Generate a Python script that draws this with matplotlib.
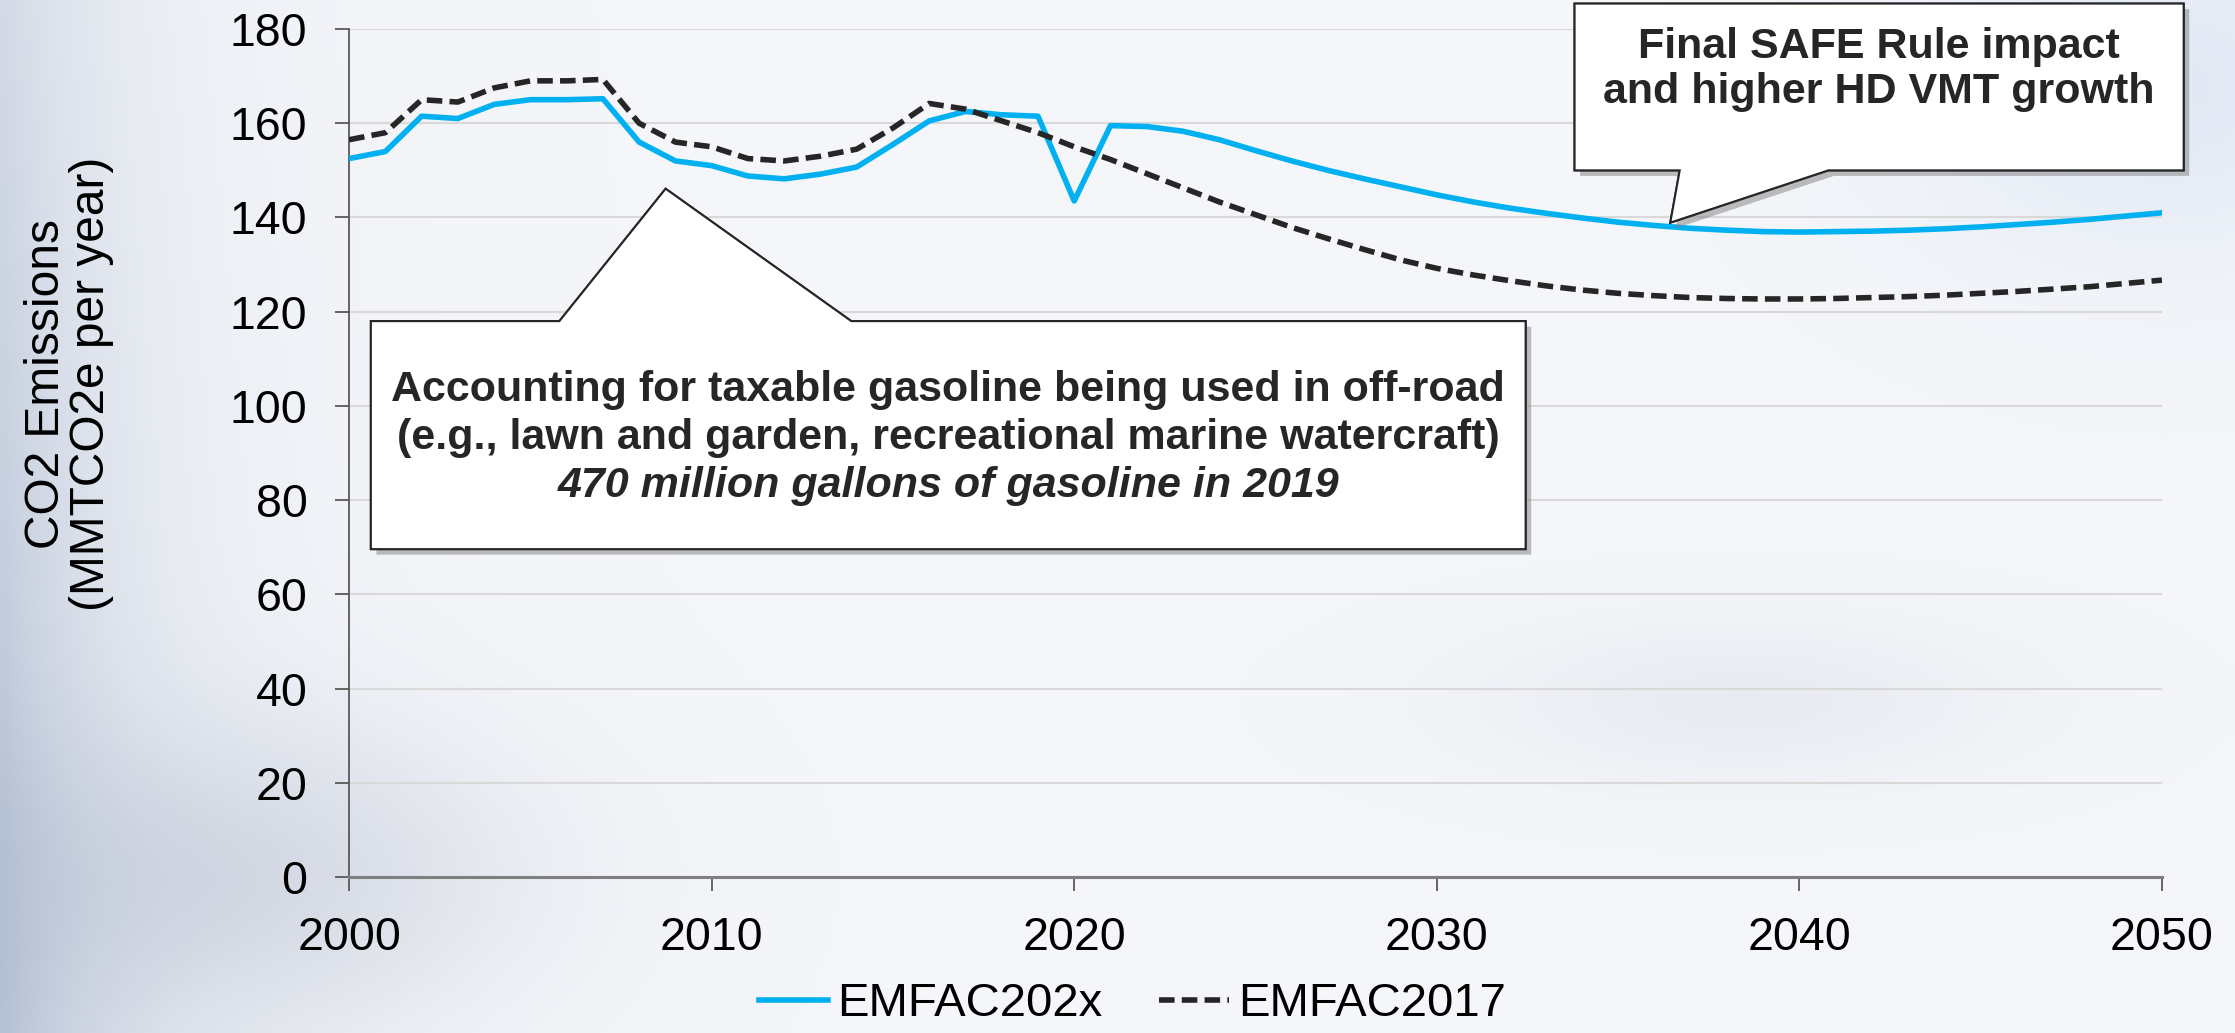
import matplotlib
matplotlib.use('Agg')
import matplotlib.pyplot as plt
import matplotlib.patheffects as pe
from matplotlib.patches import Polygon
import numpy as np

plt.rcParams['font.family'] = ['Liberation Sans', 'DejaVu Sans']

years = list(range(2000, 2051))
emfac202x = [152.5, 154.0, 161.5, 161.0, 164.0, 165.0, 165.0, 165.2, 156.0, 152.0,
             151.0, 148.8, 148.2, 149.2, 150.7, 155.5, 160.5, 162.5, 161.8, 161.5,
             143.5, 159.5, 159.3, 158.3, 156.5, 154.2, 152.0, 150.0, 148.2, 146.5,
             144.8, 143.3, 142.0, 140.9, 139.9, 139.0, 138.3, 137.7, 137.3, 137.0,
             136.9, 137.0, 137.1, 137.3, 137.6, 138.0, 138.5, 139.0, 139.6, 140.3,
             141.0]
emfac2017 = [156.5, 158.0, 165.0, 164.5, 167.5, 169.0, 169.0, 169.3, 160.0, 156.0,
             155.0, 152.5, 152.0, 153.0, 154.5, 159.0, 164.2, 163.0, 160.5, 158.0,
             155.0, 152.3, 149.3, 146.3, 143.3, 140.6, 137.9, 135.5, 133.2, 131.0,
             129.2, 127.8, 126.6, 125.5, 124.6, 123.9, 123.4, 123.0, 122.8, 122.7,
             122.7, 122.8, 123.0, 123.2, 123.5, 123.9, 124.3, 124.8, 125.3, 126.0,
             126.7]
series_names = ['EMFAC202x', 'EMFAC2017']
x_ticks = [2000, 2010, 2020, 2030, 2040, 2050]
y_ticks = [0, 20, 40, 60, 80, 100, 120, 140, 160, 180]

fig = plt.figure(figsize=(22.35, 10.33), dpi=100)

# soft slide-like background
bg_ax = fig.add_axes([0, 0, 1, 1], zorder=-10)
h, w = 206, 447
yy, xx = np.mgrid[0:1:h * 1j, 0:1:w * 1j]
bg = np.ones((h, w, 3)) * np.array([0.960, 0.966, 0.980])
left = (np.exp(-xx / 0.06) * (0.55 + 0.45 * yy))[..., None]
bg -= left * np.array([0.24, 0.20, 0.14])
blob = np.exp(-(((xx - 0.12) / 0.12) ** 2 + ((yy - 0.85) / 0.15) ** 2))[..., None]
bg -= blob * np.array([0.10, 0.09, 0.07])
blob2 = np.exp(-(((xx - 0.78) / 0.12) ** 2 + ((yy - 0.68) / 0.08) ** 2))[..., None]
bg -= blob2 * np.array([0.05, 0.045, 0.035])
tr = np.exp(-(((xx - 0.97) / 0.12) ** 2 + ((yy - 0.08) / 0.18) ** 2))[..., None]
bg -= tr * np.array([0.07, 0.05, 0.02])
bg_ax.imshow(np.clip(bg, 0, 1), aspect='auto', extent=[0, 1, 0, 1], interpolation='bicubic')
bg_ax.axis('off')

ax = fig.add_axes([0.1562, 0.1510, 0.8111, 0.8209])
ax.set_facecolor('none')

ax.plot(years, emfac202x, color='#00b0f0', lw=4.0, label=series_names[0], zorder=3)
ax.plot(years, emfac2017, color='#262626', lw=4.0, ls=(0, (2.8, 1.3)),
        label=series_names[1], zorder=3)

ax.set_xlim(2000, 2050)
ax.set_ylim(0, 180)
ax.set_xticks(x_ticks)
ax.set_yticks(y_ticks)
ax.tick_params(axis='both', labelsize=33.5, length=10, width=1.3, color='#595959',
               labelcolor='black')
ax.tick_params(axis='y', pad=20)
ax.tick_params(axis='x', pad=18)
ax.grid(axis='y', color='#d9d9d9', lw=1.5)
ax.set_axisbelow(True)
for s in ['top', 'right']:
    ax.spines[s].set_visible(False)
ax.spines['left'].set_color('#595959')
ax.spines['left'].set_linewidth(1.3)
ax.spines['bottom'].set_color('#7f7f7f')
ax.spines['bottom'].set_linewidth(2.2)

fig.text(0.031, 0.628, 'CO2 Emissions\n(MMTCO2e per year)', rotation=90,
         ha='center', va='center', fontsize=34.5, linespacing=1.0)

leg = fig.legend(loc='center', bbox_to_anchor=(0.5065, 0.028), ncol=2, frameon=False,
                 fontsize=34, handlelength=1.48, handletextpad=0.19, columnspacing=1.19,
                 borderpad=0)

shadow = [pe.withSimplePatchShadow(offset=(4, -4), shadow_rgbFace='#808080', alpha=0.5),
          pe.Normal()]

# callout: off-road gasoline
box2 = [(2000.6, 118.0), (2005.8, 118.0), (2008.73, 146.1), (2013.85, 118.0),
        (2032.45, 118.0), (2032.45, 69.6), (2000.6, 69.6)]
ax.add_patch(Polygon(box2, closed=True, facecolor='white', edgecolor='#262626',
                     lw=1.5, clip_on=False, zorder=5, path_effects=shadow))
cx = (2000.6 + 2032.45) / 2
ax.text(cx, 103.4, 'Accounting for taxable gasoline being used in off-road',
        ha='center', va='center', fontsize=31, fontweight='bold', color='#262626', zorder=6)
ax.text(cx, 93.2, '(e.g., lawn and garden, recreational marine watercraft)',
        ha='center', va='center', fontsize=31, fontweight='bold', color='#262626', zorder=6)
ax.text(cx, 83.0, '470 million gallons of gasoline in 2019', ha='center', va='center',
        fontsize=31, fontweight='bold', fontstyle='italic', color='#262626', zorder=6)

# callout: SAFE rule
box1 = [(2033.8, 185.4), (2050.6, 185.4), (2050.6, 150.0), (2040.8, 150.0),
        (2036.44, 138.9), (2036.7, 150.0), (2033.8, 150.0)]
ax.add_patch(Polygon(box1, closed=True, facecolor='white', edgecolor='#262626',
                     lw=1.5, clip_on=False, zorder=5, path_effects=shadow))
ax.text(2042.2, 171.4, 'Final SAFE Rule impact\nand higher HD VMT growth',
        ha='center', va='center', fontsize=31, fontweight='bold', color='#262626',
        linespacing=1.15, zorder=6)

fig.savefig('out.png', dpi=100)
